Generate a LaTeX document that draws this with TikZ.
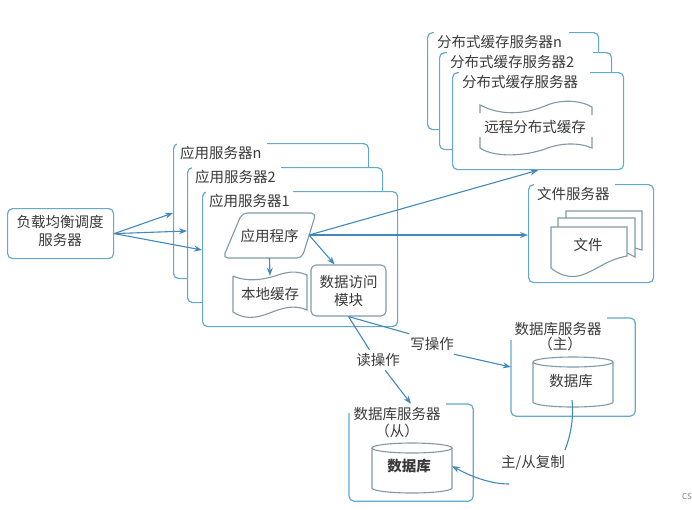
\documentclass[tikz,border=0pt]{standalone}
\usepackage{fontspec}
\usepackage{xcolor}
\usetikzlibrary{arrows.meta}
\setmainfont{Noto Sans CJK SC}
\definecolor{srvblue}{HTML}{62A9CB}
\definecolor{innergray}{HTML}{7F9AA6}
\definecolor{arrowblue}{HTML}{4389BC}
\definecolor{txtgray}{HTML}{3A3A3A}

\begin{document}
\begin{tikzpicture}[x=1pt,y=-1pt,
		every node/.style={text=txtgray,font=\fontsize{14.5}{18}\selectfont,inner sep=0pt,align=center},
		srvbox/.style={draw=srvblue,line width=1.2pt,fill=white,rounded corners=5pt,anchor=north west},
		srvlabel/.style={fill=white,anchor=north west,inner xsep=3pt,minimum height=24pt,align=left},
		innerbox/.style={draw=innergray,line width=1.1pt,rounded corners=5pt},
		innerline/.style={draw=innergray,line width=1.1pt},
		link/.style={draw=arrowblue,line width=1.1pt},
		arrow/.style={link,-{Stealth[length=8pt,width=6pt]}}]
		\useasboundingbox (0,0) rectangle (692,509);
		
		\node[srvbox,minimum width=106pt,minimum height=50pt] (lbsrv) at (7,208) {};
		\node at (60,231) {负载均衡调度\\服务器};
		
		\foreach \nm/\px/\py/\bw/\bh/\lx/\tw/\lbl in {
			appn/173/143/195/135/177/84/应用服务器n,
			app2/187/167/195/135/192/83/应用服务器2,
			app1/202/191/195/135/206/81/应用服务器1,
			distn/427/32/171/97/434/129/分布式缓存服务器n,
			dist2/439/52/172/97/447/140/分布式缓存服务器2,
			dist1/452/72/171/97/459/125/分布式缓存服务器,
			filesrv/528/184/125/98/534/75/文件服务器}{
			\node[srvbox,minimum width=\bw pt,minimum height=\bh pt] (\nm) at (\px,\py) {};
			\node[srvlabel,text width=\tw pt] (\nm lab) at (\lx,\py-2) {\lbl};
		}
		
		\node[minimum width=124pt,minimum height=98pt] (dbmaster) at (573,367) {};
		\node[minimum width=124pt,minimum height=97pt] (dbslave) at (411,452.5) {};
		\draw[srvblue,line width=1.2pt,rounded corners=5pt] (511,340) |- (dbmaster.south east) |- (607,318);
		\draw[srvblue,line width=1.2pt,rounded corners=5pt] (349,413) |- (dbslave.south east) |- (446,404);
		\node (dbmlab) at (558,329) {数据库服务器};
		\node (dbmlabb) at (560,344) {（主）};
		\node (dbslab) at (397,414) {数据库服务器};
		\node (dbslabb) at (397,431) {（从）};
		
		\node[innerbox,minimum width=75pt,minimum height=51pt] (module) at (348.5,290.5) {数据访问\\模块};
		
		\path[innerbox] (223,258) -- (242,213) -- (316,213) -- (302,258) -- cycle;
		\node[minimum width=93pt,minimum height=45pt] (prog) at (269.5,235.5) {应用程序};
		\coordinate (progout) at (309,235);
		
		\node[minimum width=74pt,minimum height=36pt] (cache) at (270,294) {本地缓存};
		\draw[innerline] (233,276) -- (233,312) .. controls (248,322) and (262,316) .. (275,311) .. controls (288,306) and (298,306) .. (307,310) -- (307,275) .. controls (296,270) and (286,272) .. (275,276) .. controls (262,280) and (246,282) .. (233,276);
		
		\node (rcache) at (535,127) {远程分布式缓存};
		\draw[innerline] (480,113) -- (480,105) .. controls (505,118) and (530,112) .. (545,106) .. controls (560,99) and (580,100) .. (592,107) -- (592,115);
		\draw[innerline] (480,137) -- (480,148) .. controls (495,158) and (525,156) .. (545,149) .. controls (560,143) and (578,142) .. (592,148) -- (592,137);
		
		\draw[innerline,fill=white] (635,248) -- (642,250) -- (642,211) -- (566,211) -- (566,220);
		\draw[innerline,fill=white] (627,253) -- (635,257) -- (635,218) -- (558,218) -- (558,228);
		\draw[innerline,fill=white] (551,268) -- (551,227) -- (627,227) -- (627,256) .. controls (605,260) and (595,272) .. (578,276) .. controls (568,278) and (558,274) .. (551,268);
		\node (files) at (588,245) {文件};
		
		\foreach \cx/\ty/\by in {533/362/402,372/448/488}{
			\draw[innerline] (\cx+40,\ty) ellipse [x radius=40,y radius=5];
			\draw[innerline] (\cx,\ty) -- (\cx,\by) arc [start angle=180,end angle=0,x radius=40,y radius=5] -- (\cx+80,\ty);
		}
		\node (dbmtxt) at (571,381) {数据库};
		\node[font=\fontsize{14.5}{18}\selectfont\bfseries] (dbstxt) at (409,466) {数据库};
		
		\node[minimum width=45pt,minimum height=20pt] (wlab) at (432,344) {写操作};
		\node[minimum width=45pt,minimum height=20pt] (rlab) at (378,360) {读操作};
		\node[minimum width=60pt,minimum height=20pt] (repl) at (533,463) {主/从复制};
		\node[font=\fontsize{8}{10}\selectfont,text=gray,anchor=east] (mark) at (692,497) {CS};
		
		\foreach \nm/\py in {appn/213,app2/231,app1/250}{
			\draw[arrow] (lbsrv.east) -- (\nm.west |- 0,\py);
		}
		\draw[arrow] (progout) -- (dist1.south);
		\draw[arrow] (progout) -- (filesrv.west |- progout);
		\draw[arrow] (progout) -- (module.118);
		\draw[arrow] (prog.south) -- (cache.north);
		
		\draw[link] (module.south) -- (wlab.north west);
		\draw[arrow] (wlab.-25) -- (dbmaster.west);
		\draw[link] (module.south) -- (rlab.130);
		\draw[arrow] (rlab.-55) -- (dbslave.north);
		
		\coordinate (replout) at (572,400);
		\coordinate (replmid) at (565,450);
		\coordinate (replback) at (509,484);
		\draw[link] (replout) .. controls (574,420) and (570,437) .. (replmid);
		\draw[arrow] (replback) .. controls (490,484) and (470,476) .. (dbstxt.east -| 452,0);
	\end{tikzpicture}
\end{document}
